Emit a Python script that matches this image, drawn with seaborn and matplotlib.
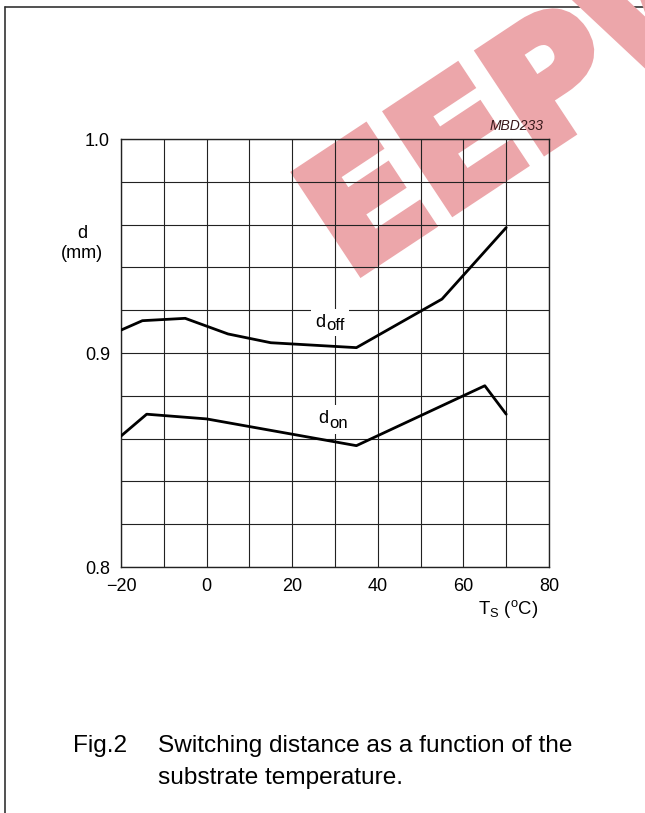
import matplotlib
matplotlib.use("Agg")
import matplotlib.pyplot as plt
import matplotlib.patheffects as pe
import seaborn as sns
import pandas as pd
import numpy as np
from matplotlib.lines import Line2D
from matplotlib.patches import Rectangle
from matplotlib.transforms import Bbox
from matplotlib.ticker import MultipleLocator, FixedLocator

# ---- data ----
t_off = [-20, -15, -5, 5, 15, 35, 55, 70]
d_off = [0.9107, 0.9151, 0.9162, 0.9089, 0.9048, 0.9025, 0.9252, 0.9586]
t_on = [-20, -14, 0, 35, 65, 70]
d_on = [0.8612, 0.8714, 0.8692, 0.8567, 0.8847, 0.8714]
x_ticks = [-20, 0, 20, 40, 60, 80]
y_ticks = [0.8, 0.9, 1.0]
y_tick_labels = ["0.8", "0.9", "1.0"]

sns.set_style("white")
plt.rcParams['font.family'] = ['Liberation Sans', 'DejaVu Sans']
plt.rcParams['mathtext.fontset'] = 'custom'
plt.rcParams['mathtext.rm'] = 'Liberation Sans'
plt.rcParams['mathtext.it'] = 'Liberation Sans:italic'
for k in ['text.color', 'axes.labelcolor', 'xtick.color', 'ytick.color']:
    plt.rcParams[k] = 'black'

W, H = 645, 813
fig = plt.figure(figsize=(W / 100, H / 100), dpi=100)
ax = fig.add_axes([121 / W, 1 - 567 / H, 428 / W, 428 / H])
ax.patch.set_alpha(0)

df_off = pd.DataFrame({"T": t_off, "d": d_off})
df_on = pd.DataFrame({"T": t_on, "d": d_on})
sns.lineplot(data=df_off, x="T", y="d", ax=ax, color="black", lw=2.0, sort=False, zorder=5)
sns.lineplot(data=df_on, x="T", y="d", ax=ax, color="black", lw=2.0, sort=False, zorder=5)

ax.set_xlim(-20, 80)
ax.set_ylim(0.8, 1.0)
ax.xaxis.set_major_locator(FixedLocator(x_ticks))
ax.xaxis.set_minor_locator(MultipleLocator(10))
ax.yaxis.set_major_locator(FixedLocator(y_ticks))
ax.set_yticklabels(y_tick_labels)
ax.yaxis.set_minor_locator(MultipleLocator(0.02))
ax.grid(True, which="both", color="#222222", lw=0.8)
ax.set_axisbelow(True)
for s in ax.spines.values():
    s.set_color("#222222")
    s.set_linewidth(1.0)
ax.tick_params(which="both", length=0)
ax.tick_params(axis="y", pad=8, labelsize=13)
ax.tick_params(axis="x", pad=8, labelsize=13)
ax.set_xlabel("")
ax.set_ylabel("")

# curve labels: "d" plus a near full-size subscript, on a white patch
label_specs = [  # (main left px, main baseline px, sub text, sub left px, sub baseline px)
    (315, 327, "off", 326.5, 330.5),
    (318, 423, "on", 329.5, 428),
]
label_texts = []
for mx, my, sub, sx, sy in label_specs:
    t1 = fig.text(mx / W, 1 - my / H, "d", fontsize=13, ha="left", va="baseline", zorder=8)
    t2 = fig.text(sx / W, 1 - sy / H, sub, fontsize=12, ha="left", va="baseline", zorder=8)
    label_texts.append((t1, t2))

# axis titles
fig.text(82 / W, 1 - 233 / H, "d", fontsize=13, ha="center", va="center")
fig.text(82 / W, 1 - 254 / H, "(mm)", fontsize=13, ha="center", va="center")
fig.text(538 / W, 1 - 609 / H, r"T$_\mathrm{S}$ ($^\mathrm{o}$C)", fontsize=13.3, ha="right", va="center")
fig.text(544 / W, 1 - 126 / H, "MBD233", fontsize=10, style="italic", ha="right", va="center",
         color="#3a1a1c", zorder=9)

# caption
fig.text(73 / W, 1 - 746 / H, "Fig.2", fontsize=17.6, ha="left", va="center")
fig.text(158 / W, 1 - 746 / H, "Switching distance as a function of the", fontsize=17.6, ha="left", va="center")
fig.text(158 / W, 1 - 778 / H, "substrate temperature.", fontsize=17.6, ha="left", va="center")

# page frame
fig.add_artist(Line2D([5 / W, 5 / W], [0, 1 - 7 / H], color="#333333", lw=1.2, transform=fig.transFigure))
fig.add_artist(Line2D([5 / W, 1], [1 - 7 / H, 1 - 7 / H], color="#333333", lw=1.2,
                      transform=fig.transFigure, zorder=-2))

# watermark (behind the chart so the grid shows through)
fig.text(540 / W, 1 - 100 / H, "EEPW", fontsize=116, fontweight="heavy", family="DejaVu Sans",
         color="#eca6aa", rotation=33.5, rotation_mode="anchor",
         ha="center", va="center", zorder=-1,
         path_effects=[pe.Stroke(linewidth=7, foreground="#eca6aa", joinstyle="miter"), pe.Normal()])

# white patches behind curve labels
fig.canvas.draw()
r = fig.canvas.get_renderer()
inv = fig.transFigure.inverted()
for t1, t2 in label_texts:
    bb = Bbox.union([t1.get_window_extent(r), t2.get_window_extent(r)])
    bb = Bbox.from_extents(bb.x0 - 4, bb.y0 - 3, bb.x1 + 4, bb.y1 + 5)
    fb = bb.transformed(inv)
    fig.add_artist(Rectangle((fb.x0, fb.y0), fb.width, fb.height, transform=fig.transFigure,
                             facecolor="white", edgecolor="none", zorder=7))

fig.savefig("out.png", dpi=100)
